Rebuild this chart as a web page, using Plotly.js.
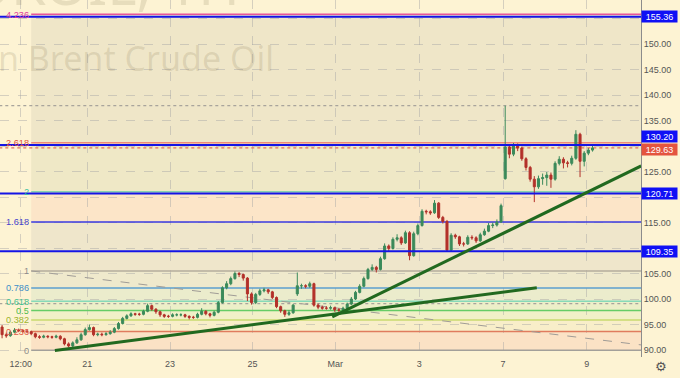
<!DOCTYPE html>
<html><head><meta charset="utf-8">
<script src="https://cdn.plot.ly/plotly-3.0.1.min.js"></script>
<style>html,body{margin:0;padding:0;background:#fdf3d3;}#chart{width:680px;height:378px;}</style>
</head><body><div id="chart"></div>
<script>
// ---- candle data (hourly-ish bars, 10 bars per trading day) ----
const openP = [94.5,93.0,92.8,93.5,93.9,93.8,93.7,93.6,93.2,92.6,
92.5,92.7,92.6,92.5,92.7,92.2,91.2,90.8,91.4,92.0,
93.0,94.0,94.4,93.0,93.1,93.0,93.2,93.5,94.2,95.2,
96.2,96.7,97.1,97.0,97.0,97.6,98.7,98.0,97.5,96.9,
96.6,96.6,96.9,96.9,96.9,96.6,96.4,96.4,97.0,97.6,
97.1,96.8,97.4,99.3,102.2,103.0,104.0,105.0,104.8,104.1,
101.0,99.3,100.9,101.6,101.8,101.4,100.3,98.5,97.7,97.0,
97.3,101.0,102.6,102.6,102.5,103.0,98.8,98.4,98.2,98.2,
98.3,97.9,97.8,98.2,99.0,100.0,101.3,102.5,104.0,105.8,
106.2,105.8,107.9,110.4,109.9,111.7,112.0,111.0,113.0,108.5,
112.8,114.4,117.2,117.1,116.9,118.8,116.0,115.2,109.6,112.5,
112.2,110.8,110.8,112.1,112.0,111.4,112.6,113.3,114.4,114.5,
115.1,123.6,129.8,128.4,130.1,129.6,127.5,125.8,123.5,122.0,
123.6,123.8,124.3,123.5,126.6,127.4,126.7,126.6,127.6,132.3,
127.0,128.6,129.2];
const highP = [94.9,93.4,93.8,94.3,94.2,94.1,94.0,93.8,93.4,92.9,
93.0,92.9,92.8,93.0,92.9,92.4,91.5,91.7,92.5,93.4,
94.4,95.0,94.6,93.4,93.4,93.5,93.9,94.5,95.5,96.5,
97.0,97.4,97.3,97.3,97.9,99.1,98.9,98.2,97.7,97.1,
96.9,97.2,97.2,97.2,97.1,96.8,96.7,97.3,98.2,97.8,
97.3,97.7,99.6,102.5,103.5,104.4,105.4,105.3,105.0,104.3,
101.3,101.2,102.0,102.2,102.0,101.6,100.5,98.7,97.9,97.8,
99.0,105.2,103.0,102.9,103.4,103.2,99.1,98.7,98.6,98.7,
98.5,98.2,98.5,99.3,100.4,101.6,102.9,104.4,106.1,106.8,
106.5,108.3,110.9,110.7,112.1,112.7,112.3,113.4,113.3,113.2,
114.8,117.6,117.5,117.4,119.4,119.0,116.3,115.5,112.9,112.8,
112.4,111.2,112.5,112.5,112.3,113.0,113.8,114.9,115.0,115.6,
118.7,137.9,130.2,130.6,130.5,129.9,127.8,126.1,124.1,124.2,
124.6,124.9,124.8,127.0,128.0,127.8,127.1,128.1,133.1,132.6,
129.0,129.6,130.0];
const lowP = [92.3,92.4,92.6,93.3,93.5,93.4,93.3,92.9,92.3,92.2,
92.3,92.3,92.2,92.3,91.9,90.9,90.5,90.6,91.2,91.8,
92.8,93.8,92.7,92.7,92.7,92.8,93.0,93.3,94.0,95.0,
96.0,96.5,96.7,96.7,96.8,97.4,97.7,97.1,96.5,96.3,
96.3,96.4,96.6,96.6,96.3,96.0,96.1,96.2,96.8,96.8,
96.4,96.6,97.2,99.1,101.9,102.7,103.8,104.3,103.6,99.6,
98.9,99.0,100.6,101.3,101.0,100.0,98.2,97.3,96.5,96.7,
97.1,100.6,102.0,102.1,102.2,98.5,98.0,97.9,97.9,97.9,
97.5,97.4,97.5,98.0,98.8,99.8,101.1,102.3,103.8,105.5,
105.2,105.6,107.7,109.4,109.7,111.3,110.6,110.8,107.6,108.3,
112.5,114.2,116.6,116.5,116.7,115.7,114.8,109.4,109.4,111.8,
110.4,110.3,110.6,111.6,111.0,111.2,112.4,113.1,113.9,114.2,
114.9,123.4,127.6,128.0,129.0,127.1,125.2,123.0,119.0,121.6,
122.4,122.2,121.8,123.2,126.2,125.6,125.8,126.2,127.3,123.9,
126.0,128.2,128.9];
const closeP = [93.0,92.8,93.5,93.9,93.8,93.7,93.6,93.2,92.6,92.5,
92.7,92.6,92.5,92.7,92.2,91.2,90.8,91.4,92.0,93.0,
94.0,94.4,93.0,93.1,93.0,93.2,93.5,94.2,95.2,96.2,
96.7,97.1,97.0,97.0,97.6,98.7,98.0,97.5,96.9,96.6,
96.6,96.9,96.9,96.9,96.6,96.4,96.4,97.0,97.6,97.1,
96.8,97.4,99.3,102.2,103.0,104.0,105.0,104.8,104.1,101.0,
99.3,100.9,101.6,101.8,101.4,100.3,98.5,97.7,97.0,97.3,
98.8,102.6,102.6,102.5,103.0,98.8,98.4,98.2,98.2,98.3,
97.9,97.8,98.2,99.0,100.0,101.3,102.5,104.0,105.8,106.2,
105.8,107.9,110.4,109.9,111.7,112.0,111.0,113.0,108.5,112.8,
114.4,117.2,117.1,116.9,118.8,116.0,115.2,109.6,112.5,112.2,
110.8,110.8,112.1,112.0,111.4,112.6,113.3,114.4,114.5,115.1,
118.3,129.8,128.4,130.1,129.6,127.5,125.8,123.5,122.0,123.6,
123.8,124.3,123.5,126.6,127.4,126.7,126.6,127.6,132.3,127.0,
128.6,129.2,129.63];

// ---- axes ----
const timeTickPos = [4.5, 20.5, 40.4, 60.2, 80.1, 100.3, 120.5, 140.6];
const timeTickLabels = ["12:00","21","23","25","Mar","3","7","9"];
const priceTicks = [90,95,100,105,110,115,120,125,130,135,140,145,150,155];
const priceTickLabels = ["90.00","95.00","100.00","105.00","","115.00","","125.00","","135.00","140.00","145.00","150.00",""];

// ---- Fibonacci extension ----
const fibRatios = [0,0.236,0.382,0.5,0.618,0.786,1,1.618,2,2.618,4.236];
const fibLabels = ["0","0.236","0.382","0.5","0.618","0.786","1","1.618","2","2.618","4.236"];
const fibLow = 89.95, fibHigh = 105.5, fibStartBar = 7;
const fibLineColors = ['#a3a09a','#e07b5e','#c9da6e','#66cc66','#86dab8','#5c9fcf','#b5ad9c','#3a3ae0','#86d2ae','#ee8a78','#e8559a'];
const fibLabelColors = ['#8a8a8a','#e05a48','#9bb52f','#4cbb4c','#3ec08e','#3f8fc7','#8a8a8a','#4444cc','#35c0a0','#e0503c','#e0409a'];
const fibFillColors = ['#fbe2c5','#f8eec9','#f1f0c8','#ecefc8','#ebeccc','#efe9cc','#efe6cb','#fce5c8','#efe8c6','#efe6c8'];

// ---- drawings ----
const userLevels = [155.36, 130.20, 120.71, 109.35];
const userLevelShift = [0, 8, 0, 0];
const greyDottedLevels = [137.9, 99.1];
const lastPrice = 129.63;
const trendA = {x:[12.7,128.6], y:[89.9,102.2]};
const trendB = {x:[79.4,153.7], y:[96.5,126.1]};
const fibDiag = {x:[7,153.7], y:[105.5,91.0]};

const barIndex = closeP.map((_, i) => i);
const fibPrice = r => fibLow + r * (fibHigh - fibLow);

const shapes = [];
const annotations = [];

// watermark (drawn first, behind other annotations)
annotations.push({xref:'paper', yref:'paper', x:276/641, y:1-58/357, xanchor:'right', yanchor:'middle',
  text:'London Brent Crude Oil', showarrow:false, font:{family:'Noto Sans', size:34, color:'rgba(120,105,70,0.16)'}});
annotations.push({xref:'paper', yref:'paper', x:242/641, y:1-23/357, xanchor:'right', yanchor:'bottom',
  text:'UKOIL, 1H', showarrow:false, font:{family:'Noto Sans', size:56, color:'rgba(120,105,70,0.16)'}});

// fills
for (let i = 0; i < fibRatios.length - 1; i++) {
  shapes.push({type:'rect', layer:'below', xref:'x', yref:'y', x0:fibStartBar, x1:200,
    y0:fibPrice(fibRatios[i]), y1:fibPrice(fibRatios[i+1]), line:{width:0}, fillcolor:fibFillColors[i]});
}
// fib lines + labels
fibRatios.forEach((r, i) => {
  shapes.push({type:'line', layer:'between', xref:'x', yref:'y', x0:fibStartBar, x1:200,
    y0:fibPrice(r), y1:fibPrice(r), line:{color:fibLineColors[i], width:1.5}});
  annotations.push({xref:'x', yref:'y', x:fibStartBar, y:fibPrice(r), text:fibLabels[i], showarrow:false,
    xanchor:'right', yanchor:'middle', xshift:-1, height:9, borderpad:0,
    font:{family:'Liberation Sans, Arial', size:9.2, color:fibLabelColors[i]}});
});
// dashed fib diagonal
shapes.push({type:'line', layer:'between', xref:'x', yref:'y', x0:fibDiag.x[0], x1:fibDiag.x[1], y0:fibDiag.y[0], y1:fibDiag.y[1],
  line:{color:'#a09c96', width:1, dash:'dash'}});
// dotted levels (full width)
greyDottedLevels.forEach(v => shapes.push({type:'line', layer:'between', xref:'x', yref:'y', x0:-5, x1:200, y0:v, y1:v,
  line:{color:'#a8a49c', width:1.3, dash:'dot'}}));
shapes.push({type:'line', layer:'between', xref:'x', yref:'y', x0:-5, x1:200, y0:lastPrice, y1:lastPrice,
  line:{color:'#e0725c', width:1.3, dash:'dot'}});
// user blue lines
userLevels.forEach((v, i) => {
  shapes.push({type:'line', layer:'above', xref:'paper', yref:'y', x0:0, x1:1, y0:v, y1:v, line:{color:'#1414e6', width:2}});
  annotations.push({xref:'paper', yref:'y', x:1, y:v, yshift:userLevelShift[i], text:v.toFixed(2), showarrow:false,
    xanchor:'left', yanchor:'middle', width:35, height:11, bgcolor:'#1010f5', borderpad:0,
    font:{family:'Liberation Sans, Arial', size:9, color:'#ffffff'}});
});
annotations.push({xref:'paper', yref:'y', x:1, y:lastPrice, yshift:-2, text:lastPrice.toFixed(2), showarrow:false,
  xanchor:'left', yanchor:'middle', width:35, height:11, bgcolor:'#e4543f', borderpad:0,
  font:{family:'Liberation Sans, Arial', size:9, color:'#ffffff'}});
// green trend lines
[trendA, trendB].forEach(t => shapes.push({type:'line', layer:'above', xref:'x', yref:'y',
  x0:t.x[0], x1:t.x[1], y0:t.y[0], y1:t.y[1], line:{color:'#21691f', width:3}}));

// gear
annotations.push({xref:'paper', yref:'paper', x:1+20/641, y:-10/357, xanchor:'center', yanchor:'middle',
  text:'⚙', showarrow:false, font:{family:'DejaVu Sans', size:13, color:'#555'}});

const trace = {type:'candlestick', x:barIndex, open:openP, high:highP, low:lowP, close:closeP,
  increasing:{line:{color:'#3b8a5a', width:1}, fillcolor:'#3b8a5a'},
  decreasing:{line:{color:'#b3312a', width:1}, fillcolor:'#b3312a'},
  whiskerwidth:0, hoverinfo:'skip', showlegend:false};

const gridC = 'rgba(165,165,165,0.45)';
const layout = {
  width:680, height:378, margin:{l:0, r:39, t:0, b:21},
  paper_bgcolor:'#fdf3d3', plot_bgcolor:'#fdf3d3', showlegend:false,
  xaxis:{range:[-0.5,153.66], tickvals:timeTickPos, ticktext:timeTickLabels, showgrid:true, gridcolor:gridC,
    griddash:'dash', gridwidth:1, zeroline:false, rangeslider:{visible:false}, ticks:'', showline:false,
    tickfont:{family:'Liberation Sans, Arial', size:9, color:'#555'}, fixedrange:true},
  yaxis:{side:'right', range:[88.63,158.63], tickvals:priceTicks, ticktext:priceTickLabels, showgrid:true,
    gridcolor:gridC, griddash:'dash', gridwidth:1, zeroline:false, showline:true, linecolor:'#8c8c8c', linewidth:1,
    ticks:'', tickfont:{family:'Liberation Sans, Arial', size:9, color:'#555'}, fixedrange:true},
  shapes:shapes, annotations:annotations
};
Plotly.newPlot('chart', [trace], layout, {displayModeBar:false, staticPlot:true});
</script></body></html>
